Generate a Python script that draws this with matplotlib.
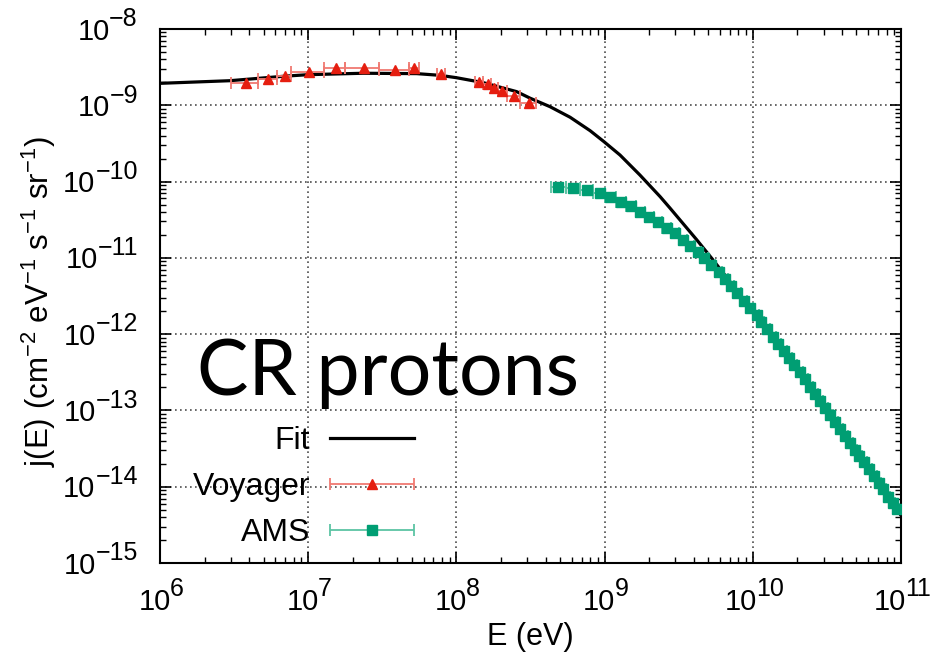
import numpy as np
import matplotlib.pyplot as plt
from matplotlib.legend_handler import HandlerErrorbar
from matplotlib.textpath import TextPath
from matplotlib.font_manager import FontProperties

plt.rcParams['font.family'] = ['Liberation Sans', 'DejaVu Sans']
plt.rcParams['mathtext.fontset'] = 'custom'
plt.rcParams['mathtext.rm'] = 'Liberation Sans'
plt.rcParams['mathtext.it'] = 'Liberation Sans:italic'

# fit curve
fit_E = [1e6, 2.96e6, 6.79e6, 1.0e7, 2.35e7, 5.40e7, 7.74e7, 1.0e8, 1.52e8, 2.55e8,
         3.14e8, 4.28e8, 5.85e8, 7.98e8, 9.91e8, 1.27e9, 1.73e9, 2.37e9, 2.76e9,
         4.18e9, 5.41e9, 7.02e9, 1.0e10, 3.16e10, 1.0e11]
fit_j = [1.94e-9, 2.10e-9, 2.40e-9, 2.52e-9, 2.63e-9, 2.60e-9, 2.47e-9, 2.30e-9, 1.98e-9, 1.51e-9,
         1.24e-9, 9.59e-10, 6.97e-10, 4.65e-10, 3.33e-10, 2.23e-10, 1.22e-10, 6.34e-11, 4.5e-11,
         1.73e-11, 9.31e-12, 4.86e-12, 1.97e-12, 1.0e-13, 4.2e-15]

# Voyager
voy_E = [3.78e6, 5.38e6, 6.93e6, 1.02e7, 1.53e7, 2.38e7, 3.87e7, 5.18e7, 7.87e7,
         1.42e8, 1.63e8, 1.79e8, 2.02e8, 2.44e8, 3.08e8]
voy_j = [1.98e-9, 2.19e-9, 2.44e-9, 2.73e-9, 3.11e-9, 3.05e-9, 2.90e-9, 3.05e-9, 2.55e-9,
         2.00e-9, 1.90e-9, 1.70e-9, 1.55e-9, 1.34e-9, 1.08e-9]
voy_Elo = [3.00e6, 4.56e6, 6.18e6, 7.69e6, 1.27e7, 1.78e7, 2.99e7, 4.76e7, 7.43e7,
           1.34e8, 1.52e8, 1.72e8, 1.90e8, 2.20e8, 2.69e8]
voy_Ehi = [4.56e6, 6.18e6, 7.69e6, 1.27e7, 1.78e7, 2.99e7, 4.76e7, 5.57e7, 8.37e7,
           1.52e8, 1.72e8, 1.90e8, 2.20e8, 2.69e8, 3.44e8]

# AMS
ams_E = [4.87e8, 6.15e8, 7.57e8, 9.27e8, 1.09e9, 1.30e9, 1.51e9, 1.74e9, 2.00e9, 2.29e9,
         2.62e9, 2.99e9, 3.38e9, 3.79e9, 4.25e9, 4.72e9, 5.26e9, 5.87e9, 6.51e9, 7.16e9,
         7.85e9, 8.73e9, 9.62e9, 1.06e10, 1.14e10, 1.25e10, 1.37e10, 1.49e10, 1.63e10, 1.76e10,
         1.91e10, 2.09e10, 2.26e10, 2.44e10, 2.64e10, 2.85e10, 3.08e10, 3.33e10, 3.60e10, 3.89e10,
         4.21e10, 4.55e10, 4.92e10, 5.24e10, 5.65e10, 6.11e10, 6.61e10, 7.08e10, 7.60e10, 8.20e10,
         8.79e10, 9.40e10]
ams_j = [8.41e-11, 8.17e-11, 7.69e-11, 7.03e-11, 6.22e-11, 5.45e-11, 4.75e-11, 4.03e-11, 3.47e-11, 2.96e-11,
         2.49e-11, 2.10e-11, 1.73e-11, 1.45e-11, 1.21e-11, 9.88e-12, 7.95e-12, 6.48e-12, 5.25e-12, 4.25e-12,
         3.44e-12, 2.70e-12, 2.18e-12, 1.77e-12, 1.43e-12, 1.16e-12, 9.27e-13, 7.50e-13, 5.97e-13, 4.83e-13,
         3.91e-13, 3.17e-13, 2.56e-13, 2.05e-13, 1.66e-13, 1.34e-13, 1.09e-13, 8.81e-14, 7.13e-14, 5.77e-14,
         4.67e-14, 3.78e-14, 3.06e-14, 2.53e-14, 2.10e-14, 1.71e-14, 1.39e-14, 1.13e-14, 9.27e-15, 7.41e-15,
         6.14e-15, 5.07e-15]

x_exps = [6, 7, 8, 9, 10, 11]
y_exps = [-15, -14, -13, -12, -11, -10, -9, -8]

c_red = '#e51e10'
c_green = '#009e73'

# bin edges of AMS: geometric middle between neighbours
lE = np.log10(ams_E)
mid = (lE[1:] + lE[:-1]) / 2
edges = np.concatenate([[2 * lE[0] - mid[0]], mid, [2 * lE[-1] - mid[-1]]])
ams_lo = np.array(ams_E) - 10 ** edges[:-1]
ams_hi = 10 ** edges[1:] - np.array(ams_E)

fig = plt.figure(figsize=(9.31, 6.58), dpi=100)
ax = fig.add_axes([160 / 931, 1 - 563 / 658, 741 / 931, 534 / 658])

ax.plot(fit_E, fit_j, color='k', lw=2.3, label='Fit', zorder=3)
ax.errorbar(voy_E, voy_j,
            xerr=[np.array(voy_E) - np.array(voy_Elo), np.array(voy_Ehi) - np.array(voy_E)],
            fmt='^', color=c_red, ms=7, ecolor='#f07a72', elinewidth=1.3, capsize=4,
            capthick=1.3, label='Voyager', zorder=4)
ax.errorbar(ams_E, ams_j, xerr=[ams_lo, ams_hi],
            fmt='s', color=c_green, ms=6.5, ecolor='#5cc4a4', elinewidth=1.3, capsize=4,
            capthick=1.3, label='AMS', zorder=4)

ax.set_xscale('log')
ax.set_yscale('log')
ax.set_xlim(1e6, 1e11)
ax.set_ylim(1e-15, 1e-8)
ax.grid(True, which='major', color='0.3', linestyle=(0, (1, 2)), lw=1.2)
ax.tick_params(which='both', direction='in', top=True, right=True,
               labelleft=False, labelbottom=False)
ax.tick_params(which='major', length=8, width=1.2)
ax.tick_params(which='minor', length=4.5, width=1.0)
for s in ax.spines.values():
    s.set_linewidth(1.5)

# gnuplot style tick labels: "10" plus a raised exponent
fs_tick = 21
fs_exp = 18
fp_main = FontProperties(family='Liberation Sans', size=fs_tick)
fp_exp = FontProperties(family='Liberation Sans', size=fs_exp)

def width_pt(s, fp):
    return TextPath((0, 0), s, prop=fp).get_extents().width

w10 = width_pt('10', fp_main)
for e in y_exps:
    s_exp = '\u2212%d' % -e
    w_exp = width_pt(s_exp, fp_exp)
    ax.annotate(s_exp, xy=(0, 10.0 ** e), xycoords=('axes fraction', 'data'),
                xytext=(-16, 2), textcoords='offset points', ha='right', va='baseline',
                fontsize=fs_exp, annotation_clip=False)
    ax.annotate('10', xy=(0, 10.0 ** e), xycoords=('axes fraction', 'data'),
                xytext=(-16 - w_exp - 1.5, -7.6), textcoords='offset points', ha='right',
                va='baseline', fontsize=fs_tick, annotation_clip=False)
for e in x_exps:
    s_exp = '%d' % e
    w = w10 + width_pt(s_exp, fp_exp) + 1.5
    ax.annotate('10', xy=(10.0 ** e, 0), xycoords=('data', 'axes fraction'),
                xytext=(-w / 2, -33.5), textcoords='offset points', ha='left', va='baseline',
                fontsize=fs_tick, annotation_clip=False)
    ax.annotate(s_exp, xy=(10.0 ** e, 0), xycoords=('data', 'axes fraction'),
                xytext=(-w / 2 + w10 + 1.5, -23.5), textcoords='offset points', ha='left',
                va='baseline', fontsize=fs_exp, annotation_clip=False)

ax.set_xlabel('E (eV)', fontsize=22)
ax.set_ylabel('j(E) (cm$^{-2}$ eV$^{-1}$ s$^{-1}$ sr$^{-1}$)', fontsize=22.5)
ax.xaxis.set_label_coords(0.5, -0.11)
ax.yaxis.set_label_coords(-0.138, 0.49)

ax.text(0.05, 0.315, 'CR protons', transform=ax.transAxes, fontsize=55.5,
        family=['Lato', 'DejaVu Sans'], va='baseline', ha='left')

ax.legend(loc='lower right', bbox_to_anchor=(0.382, -0.026), frameon=False, markerfirst=False,
          fontsize=23, handlelength=2.63, labelspacing=0.5, handletextpad=0.63,
          handler_map={type(ax.containers[0]): HandlerErrorbar(xerr_size=1.32)})

fig.savefig('out.png', dpi=100)
